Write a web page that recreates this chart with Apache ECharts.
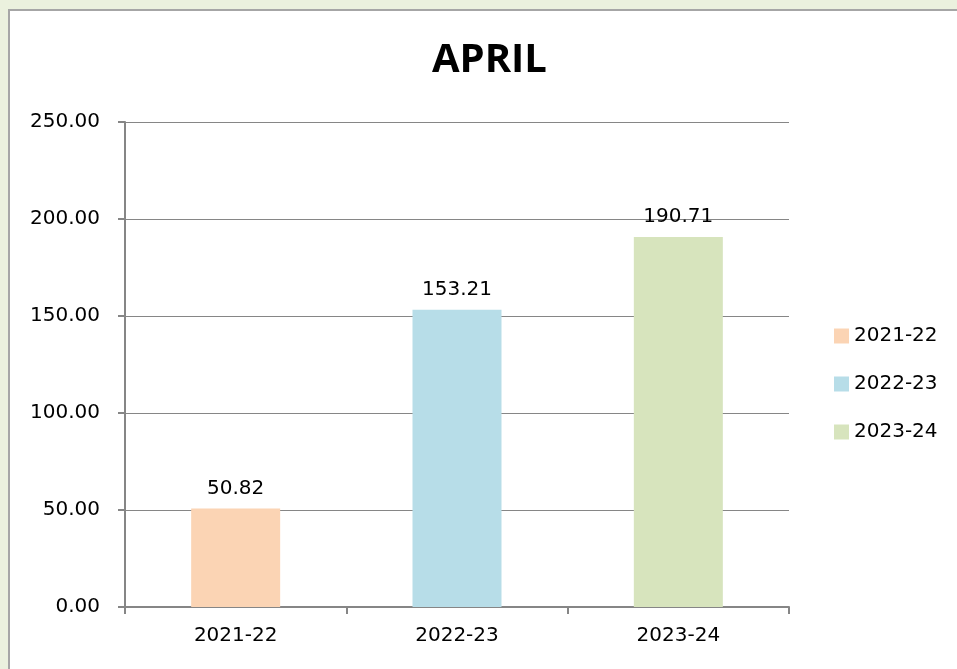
<!DOCTYPE html>
<html>
<head>
<meta charset="utf-8">
<script src="https://cdn.jsdelivr.net/npm/echarts@6/dist/echarts.min.js"></script>
<style>
html, body { margin: 0; padding: 0; background: #ebf1de; overflow: hidden; }
#panel { position: absolute; left: 8px; top: 9px; width: 960px; height: 670px; background: #fff; border: 2px solid #a6a6a6; }
#chart { position: absolute; left: 0; top: 0; width: 957px; height: 669px; }
</style>
</head>
<body>
<div id="panel"></div>
<div id="chart"></div>
<script>
// 数据
var categories = ['2021-22', '2022-23', '2023-24'];
var values = [50.82, 153.21, 190.71];
var colors = ['#fbd4b4', '#b7dde8', '#d7e4bd'];
var yTicks = [0, 50, 100, 150, 200, 250];

var font = '"DejaVu Sans", sans-serif';

// 每个年份一个系列，堆叠在同一位置上
var series = categories.map(function (name, i) {
    var data = categories.map(function (c, j) { return j === i ? values[i] : null; });
    return {
        name: name,
        type: 'bar',
        stack: 'all',
        barWidth: 89,
        data: data,
        itemStyle: { color: colors[i] },
        label: {
            show: true,
            position: 'top',
            distance: 10,
            color: '#000',
            fontSize: 20,
            fontFamily: font,
            formatter: function (p) { return p.value.toFixed(2); }
        }
    };
});

echarts.init(document.getElementById('chart')).setOption({
    backgroundColor: 'transparent',
    animation: false,
    title: {
        text: 'APRIL',
        left: 427,
        top: 36,
        textStyle: { fontSize: 40, fontWeight: 'bold', color: '#000', fontFamily: '"Open Sans", sans-serif' }
    },
    legend: {
        orient: 'vertical',
        left: 829,
        top: 321,
        itemWidth: 15,
        itemHeight: 15,
        itemGap: 28,
        icon: 'rect',
        textStyle: { fontSize: 20, color: '#000', fontFamily: font },
        data: categories
    },
    grid: { left: 125, right: 168, top: 122, bottom: 62 },
    xAxis: {
        type: 'category',
        data: categories,
        axisLine: { lineStyle: { color: '#868686', width: 2 } },
        axisTick: { show: true, length: 7, lineStyle: { color: '#868686', width: 2 } },
        axisLabel: { color: '#000', fontSize: 20, fontFamily: font, margin: 19 }
    },
    yAxis: {
        type: 'value',
        min: yTicks[0],
        max: yTicks[yTicks.length - 1],
        interval: yTicks[1] - yTicks[0],
        axisLine: { show: true, lineStyle: { color: '#868686', width: 2 } },
        axisTick: { show: true, length: 7, lineStyle: { color: '#868686', width: 2 } },
        splitLine: { lineStyle: { color: '#868686', width: 1 } },
        axisLabel: {
            color: '#000', fontSize: 20, fontFamily: font, margin: 25,
            formatter: function (v) { return v.toFixed(2); }
        }
    },
    series: series
});
</script>
</body>
</html>
